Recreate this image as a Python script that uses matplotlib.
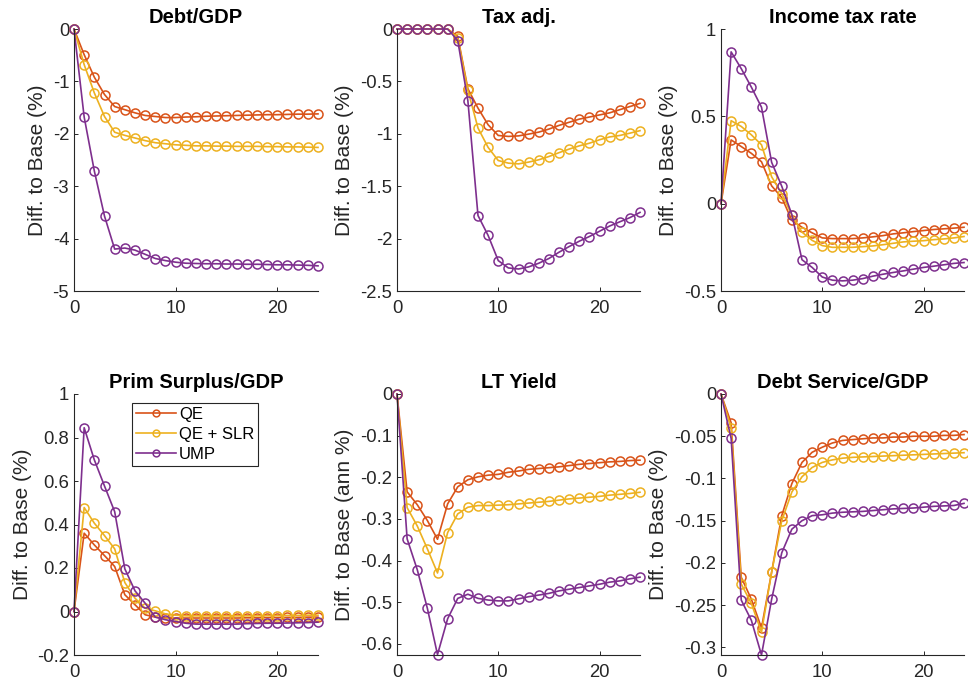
import numpy as np
import matplotlib
matplotlib.use("Agg")
import matplotlib.pyplot as plt

plt.rcParams['font.family'] = ['Liberation Sans', 'DejaVu Sans']

x = list(range(25))
series_names = ["QE", "QE + SLR", "UMP"]
colors = ["#D95319", "#EDB120", "#7E2F8E"]

titles = ["Debt/GDP", "Tax adj.", "Income tax rate",
          "Prim Surplus/GDP", "LT Yield", "Debt Service/GDP"]
ylabels = ["Diff. to Base (%)", "Diff. to Base (%)", "Diff. to Base (%)",
           "Diff. to Base (%)", "Diff. to Base (ann %)", "Diff. to Base (%)"]

debt_qe = [0, -0.49, -0.92, -1.25, -1.48, -1.54, -1.60, -1.65, -1.67, -1.69, -1.69, -1.68, -1.675,
           -1.665, -1.66, -1.655, -1.65, -1.645, -1.64, -1.635, -1.635, -1.63, -1.625, -1.625, -1.62]
debt_slr = [0, -0.68, -1.22, -1.67, -1.97, -2.03, -2.08, -2.13, -2.17, -2.19, -2.21, -2.22, -2.23,
            -2.23, -2.235, -2.235, -2.24, -2.24, -2.24, -2.245, -2.245, -2.25, -2.25, -2.255, -2.26]
debt_ump = [0, -1.68, -2.71, -3.57, -4.20, -4.18, -4.22, -4.30, -4.38, -4.42, -4.45, -4.47, -4.475,
            -4.48, -4.48, -4.485, -4.485, -4.49, -4.49, -4.495, -4.50, -4.50, -4.505, -4.51, -4.52]

tax_qe = [0, 0, 0, 0, 0, 0, -0.07, -0.57, -0.755, -0.914, -1.016, -1.025, -1.02, -1.003, -0.984,
          -0.955, -0.92, -0.89, -0.86, -0.84, -0.82, -0.80, -0.77, -0.74, -0.71]
tax_slr = [0, 0, 0, 0, 0, 0, -0.085, -0.585, -0.945, -1.13, -1.255, -1.28, -1.287, -1.27, -1.248,
           -1.217, -1.18, -1.146, -1.115, -1.09, -1.057, -1.03, -1.016, -0.994, -0.97]
tax_ump = [0, 0, 0, 0, 0, 0, -0.11, -0.685, -1.78, -1.97, -2.21, -2.28, -2.29, -2.27, -2.235,
           -2.19, -2.13, -2.076, -2.025, -1.98, -1.93, -1.88, -1.84, -1.80, -1.75]

inc_qe = [0, 0.365, 0.327, 0.288, 0.24, 0.102, 0.035, -0.096, -0.135, -0.167, -0.196, -0.20, -0.20,
          -0.20, -0.196, -0.19, -0.183, -0.173, -0.167, -0.160, -0.154, -0.148, -0.144, -0.140, -0.135]
inc_slr = [0, 0.475, 0.442, 0.394, 0.337, 0.154, 0.058, -0.067, -0.163, -0.21, -0.24, -0.25, -0.25,
           -0.25, -0.246, -0.242, -0.235, -0.227, -0.219, -0.215, -0.212, -0.206, -0.202, -0.196, -0.188]
inc_ump = [0, 0.869, 0.773, 0.667, 0.552, 0.237, 0.10, -0.063, -0.321, -0.365, -0.42, -0.438, -0.442,
           -0.438, -0.429, -0.415, -0.404, -0.394, -0.385, -0.375, -0.365, -0.358, -0.35, -0.342, -0.337]

ps_qe = [0, 0.36, 0.306, 0.257, 0.207, 0.077, 0.031, -0.015, -0.026, -0.03, -0.03, -0.03, -0.03,
         -0.03, -0.03, -0.03, -0.03, -0.029, -0.029, -0.028, -0.028, -0.027, -0.027, -0.026, -0.026]
ps_slr = [0, 0.478, 0.406, 0.349, 0.288, 0.133, 0.061, 0.015, 0.003, -0.011, -0.017, -0.02, -0.02,
          -0.02, -0.02, -0.02, -0.02, -0.02, -0.02, -0.019, -0.019, -0.018, -0.018, -0.017, -0.017]
ps_ump = [0, 0.845, 0.697, 0.577, 0.459, 0.196, 0.095, 0.038, -0.026, -0.038, -0.046, -0.054, -0.058,
          -0.058, -0.058, -0.058, -0.058, -0.056, -0.055, -0.054, -0.054, -0.053, -0.052, -0.051, -0.049]

lt_qe = [0, -0.235, -0.266, -0.304, -0.349, -0.264, -0.223, -0.206, -0.199, -0.195, -0.193, -0.188, -0.185,
         -0.181, -0.179, -0.177, -0.175, -0.172, -0.169, -0.167, -0.165, -0.163, -0.162, -0.160, -0.159]
lt_slr = [0, -0.273, -0.317, -0.372, -0.43, -0.333, -0.288, -0.272, -0.268, -0.268, -0.267, -0.266, -0.264,
          -0.262, -0.260, -0.258, -0.255, -0.252, -0.250, -0.248, -0.246, -0.243, -0.241, -0.239, -0.236]
lt_ump = [0, -0.348, -0.422, -0.515, -0.626, -0.54, -0.491, -0.481, -0.491, -0.495, -0.497, -0.497, -0.492,
          -0.487, -0.483, -0.479, -0.473, -0.469, -0.465, -0.461, -0.457, -0.452, -0.449, -0.444, -0.44]

ds_qe = [0, -0.034, -0.217, -0.243, -0.277, -0.211, -0.144, -0.106, -0.081, -0.069, -0.063, -0.058, -0.055,
         -0.054, -0.053, -0.052, -0.052, -0.051, -0.051, -0.050, -0.050, -0.050, -0.049, -0.049, -0.048]
ds_slr = [0, -0.04, -0.225, -0.248, -0.282, -0.211, -0.15, -0.116, -0.098, -0.087, -0.081, -0.078, -0.076,
          -0.075, -0.0745, -0.074, -0.0735, -0.073, -0.0725, -0.072, -0.0715, -0.071, -0.0705, -0.070, -0.0695]
ds_ump = [0, -0.0525, -0.244, -0.268, -0.309, -0.243, -0.188, -0.16, -0.15, -0.144, -0.143, -0.141, -0.14,
          -0.1395, -0.139, -0.138, -0.137, -0.136, -0.1355, -0.135, -0.134, -0.133, -0.1325, -0.132, -0.1295]

panels = [
    (debt_qe, debt_slr, debt_ump),
    (tax_qe, tax_slr, tax_ump),
    (inc_qe, inc_slr, inc_ump),
    (ps_qe, ps_slr, ps_ump),
    (lt_qe, lt_slr, lt_ump),
    (ds_qe, ds_slr, ds_ump),
]

ylims = [(-5, 0), (-2.5, 0), (-0.5, 1), (-0.2, 1), (-0.627, 0), (-0.309, 0)]
yticks = [
    [-5, -4, -3, -2, -1, 0],
    [-2.5, -2, -1.5, -1, -0.5, 0],
    [-0.5, 0, 0.5, 1],
    [-0.2, 0, 0.2, 0.4, 0.6, 0.8, 1],
    [-0.6, -0.5, -0.4, -0.3, -0.2, -0.1, 0],
    [-0.3, -0.25, -0.2, -0.15, -0.1, -0.05, 0],
]

def fmt(v):
    return '%g' % v

W, H = 968, 688
fig = plt.figure(figsize=(W / 100, H / 100), dpi=100)
lefts = [74, 397, 721]
widths = [244, 243, 243]
tops = [29, 394]
heights = [262, 261]
axcol = "#262626"

for i, (title, data) in enumerate(zip(titles, panels)):
    r, c = divmod(i, 3)
    ax = fig.add_axes([lefts[c] / W, 1 - (tops[r] + heights[r]) / H,
                       widths[c] / W, heights[r] / H])
    for vals, name, col in zip(data, series_names, colors):
        ax.plot(x, vals, '-o', color=col, lw=1.2, ms=6.5, mew=1.1,
                mfc='none', label=name, clip_on=False)
    ax.set_xlim(0, 24)
    ax.set_ylim(*ylims[i])
    ax.set_xticks([0, 10, 20])
    ax.set_yticks(yticks[i])
    ax.set_yticklabels([fmt(v) for v in yticks[i]])
    for s in ['top', 'right']:
        ax.spines[s].set_visible(False)
    for s in ['left', 'bottom']:
        ax.spines[s].set_color(axcol)
        ax.spines[s].set_linewidth(0.8)
    ax.tick_params(direction='in', length=3, width=0.7, colors=axcol,
                   labelsize=13.3)
    ax.tick_params(axis='x', pad=6.5)
    ax.tick_params(axis='y', pad=3.5)
    ax.set_title(title, fontsize=14.5, fontweight='bold', pad=4, color='black')
    ax.set_ylabel(ylabels[i], fontsize=15, color=axcol, labelpad=4)
    if i == 3:
        leg = ax.legend(loc='upper left', bbox_to_anchor=(0.236, 0.967),
                        borderaxespad=0, fontsize=12, handlelength=2.4,
                        handletextpad=0.18, labelspacing=0.3, borderpad=0.25,
                        fancybox=False, framealpha=1, markerscale=0.75)
        leg.get_frame().set_edgecolor(axcol)
        leg.get_frame().set_linewidth(0.8)

fig.savefig("out.png", dpi=100)
